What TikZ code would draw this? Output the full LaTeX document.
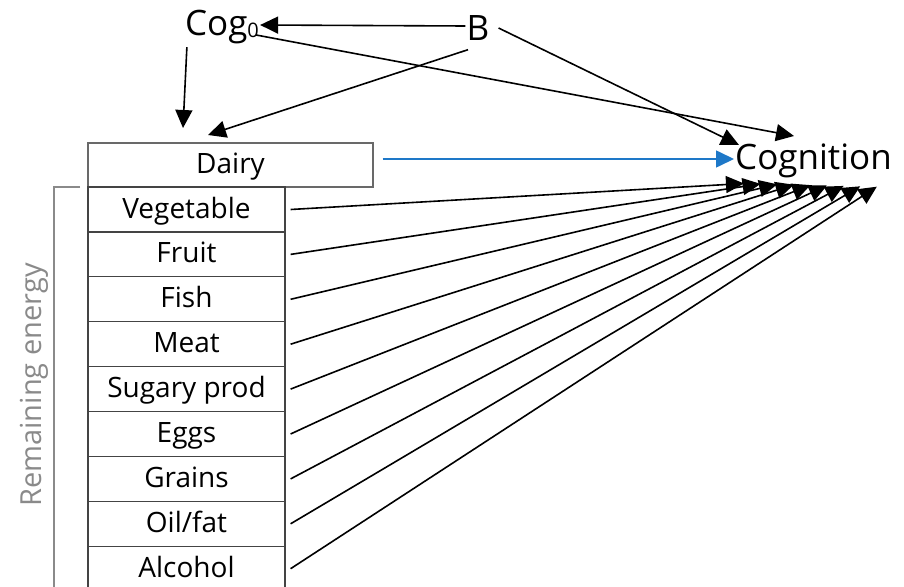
\documentclass[tikz,border=0pt]{standalone}
\usepackage{fontspec}
\setmainfont{Open Sans}
\usetikzlibrary{positioning, arrows.meta}
\definecolor{boxline}{HTML}{444444}
\definecolor{cogblue}{HTML}{1E78C8}
\definecolor{braceline}{HTML}{8A8A8A}

\begin{document}
\begin{tikzpicture}[
    x=1pt, y=-1pt,
    foodbox/.style={rectangle, draw=boxline, line width=1.2pt, minimum width=197pt, minimum height=44.9pt, inner sep=0pt, text height=21pt, text depth=4pt, font=\fontsize{28}{32}\selectfont},
    dairybox/.style={foodbox, draw=boxline!80, minimum width=285pt, minimum height=44pt},
    bignode/.style={inner sep=1pt, font=\fontsize{35}{40}\selectfont},
    arr/.style={-{Triangle[length=18pt, width=17pt]}, line width=1.6pt, draw=black},
    bluearr/.style={arr, draw=cogblue}
]
    \useasboundingbox (0,0) rectangle (904,586);

    % top variables
    \node[bignode] (cog0) at (222,27) {Cog\raisebox{-0.1ex}{\fontsize{20}{22}\selectfont 0}};
    \node[bignode] (b) at (478,28) {B};
    \node[bignode, anchor=west] (cognition) at (734,161) {Cognition};

    % food groups
    \node[dairybox] (dairy) at (230.5,165) {Dairy};
    \foreach \lbl [count=\i] in {Vegetable, Fruit, Fish, Meat, Sugary prod, Eggs, Grains, Oil/fat, Alcohol}
        \node[foodbox] (food\i) at (186.5, {209.5+(\i-1)*44.9}) {\lbl};

    % remaining energy bracket
    \draw[braceline, line width=1.2pt] (80,187) -- (54,187) -- (54,592);
    \node[rotate=90, text=braceline, font=\fontsize{29}{32}\selectfont] (remain) at (34,385) {Remaining energy};

    % arrow ends
    \coordinate (dairyin1) at (183,128);
    \coordinate (dairyin2) at (208,135);
    \coordinate (cogin1) at (739,145);
    \coordinate (cogin2) at (794,136);
    \foreach \i in {1,...,9}
        \coordinate (hit\i) at ({744+(\i-1)*16.6}, {183.5+(\i-1)*0.4});

    % arrows from the top
    \draw[arr] ([yshift=2pt]b.west) -- ([yshift=2pt]cog0.east);
    \draw[arr] ([xshift=-10pt, yshift=-8pt]b.south) -- (dairyin2);
    \draw[arr] ([xshift=3pt, yshift=-2pt]cog0.south west) -- (dairyin1);
    \draw[arr] ([xshift=-4pt, yshift=-8pt]cog0.east) -- (cogin2);
    \draw[arr] ([xshift=8pt]b.east) -- (cogin1);

    % arrows into cognition
    \draw[bluearr] ([xshift=9pt, yshift=6pt]dairy.east) -- ([yshift=2pt]cognition.west);
    \foreach \i in {1,...,9}
        \draw[arr] ([xshift=5pt]food\i.east) -- (hit\i);
\end{tikzpicture}
\end{document}
